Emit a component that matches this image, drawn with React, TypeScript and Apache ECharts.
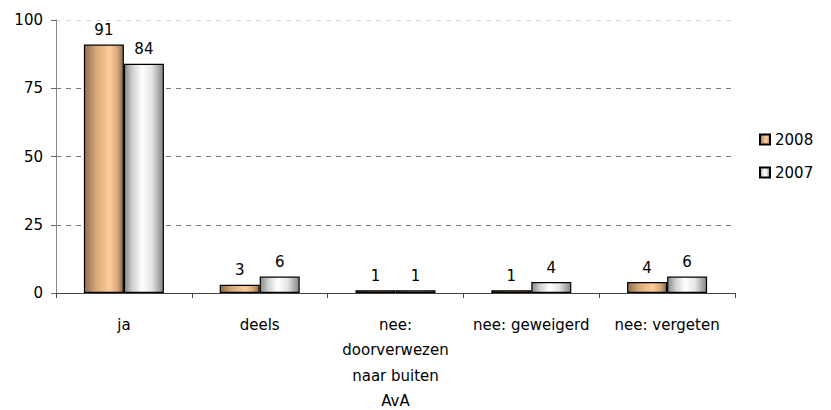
import React, { useEffect, useRef } from "react";
import * as echarts from "echarts";

const categories = ["ja", "deels", "nee:\ndoorverwezen\nnaar buiten\nAvA", "nee: geweigerd", "nee: vergeten"];
const series2008 = [91, 3, 1, 1, 4];
const series2007 = [84, 6, 1, 4, 6];
const yTicks = [0, 25, 50, 75, 100];

const font = "'DejaVu Sans', sans-serif";

const orangeGrad = new echarts.graphic.LinearGradient(0, 0, 1, 0, [
  { offset: 0, color: "#8f6f4f" },
  { offset: 0.3, color: "#d9a97a" },
  { offset: 0.65, color: "#ffcc99" },
  { offset: 0.85, color: "#d7a678" },
  { offset: 1, color: "#8a6a4a" },
]);
const greyGrad = new echarts.graphic.LinearGradient(0, 0, 1, 0, [
  { offset: 0, color: "#8a8a8a" },
  { offset: 0.2, color: "#cfcfcf" },
  { offset: 0.45, color: "#ffffff" },
  { offset: 0.7, color: "#e6e6e6" },
  { offset: 1, color: "#858585" },
]);

export default function App() {
  const ref = useRef<HTMLDivElement>(null);
  useEffect(() => {
    document.body.style.margin = "0";
    if (!ref.current) return;
    const chart = echarts.init(ref.current, undefined, { renderer: "svg" });
    chart.setOption({
      animation: false,
      textStyle: { fontFamily: font },
      grid: { left: 56, right: 96, top: 20, bottom: 117, containLabel: false, outerBoundsMode: "none" },
      legend: {
        orient: "vertical",
        left: 754,
        top: 127,
        itemWidth: 10,
        itemHeight: 10,
        itemGap: 18,
        icon: "rect",
        textStyle: { fontSize: 15, color: "#000", fontFamily: font },
        data: ["2008", "2007"],
      },
      xAxis: {
        type: "category",
        data: categories,
        axisLine: { lineStyle: { color: "#444", width: 1 } },
        axisTick: { show: true, length: 5, lineStyle: { color: "#444" } },
        axisLabel: {
          color: "#000",
          fontSize: 15,
          lineHeight: 25.5,
          margin: 19,
          interval: 0,
          fontFamily: font,
        },
      },
      yAxis: {
        type: "value",
        min: 0,
        max: 100,
        interval: 25,
        axisLine: { show: true, lineStyle: { color: "#888" } },
        axisTick: { show: true, length: 5, lineStyle: { color: "#666" } },
        axisLabel: {
          color: "#000",
          fontSize: 15,
          margin: 13,
          fontFamily: font,
          formatter: (v: number) => (yTicks.includes(v) ? String(v) : ""),
        },
        splitLine: {
          show: true,
          lineStyle: {
            type: [5, 5],
            color: ["#777", "#777", "#777", "#777", "#d8d8d8"],
            width: 1,
          },
        },
      },
      series: [
        {
          name: "2008",
          type: "bar",
          data: series2008,
          barWidth: 40,
          barGap: "0%",
          itemStyle: { color: orangeGrad, borderColor: "#000", borderWidth: 1.2 },
          label: { show: true, position: "top", distance: 7, color: "#000", fontSize: 15, fontFamily: font },
        },
        {
          name: "2007",
          type: "bar",
          data: series2007,
          barWidth: 40,
          barGap: "0%",
          itemStyle: { color: greyGrad, borderColor: "#000", borderWidth: 1.2 },
          label: { show: true, position: "top", distance: 7, color: "#000", fontSize: 15, fontFamily: font },
        },
      ],
    });
    return () => chart.dispose();
  }, []);
  return <div ref={ref} style={{ width: 831, height: 410 }} />;
}
